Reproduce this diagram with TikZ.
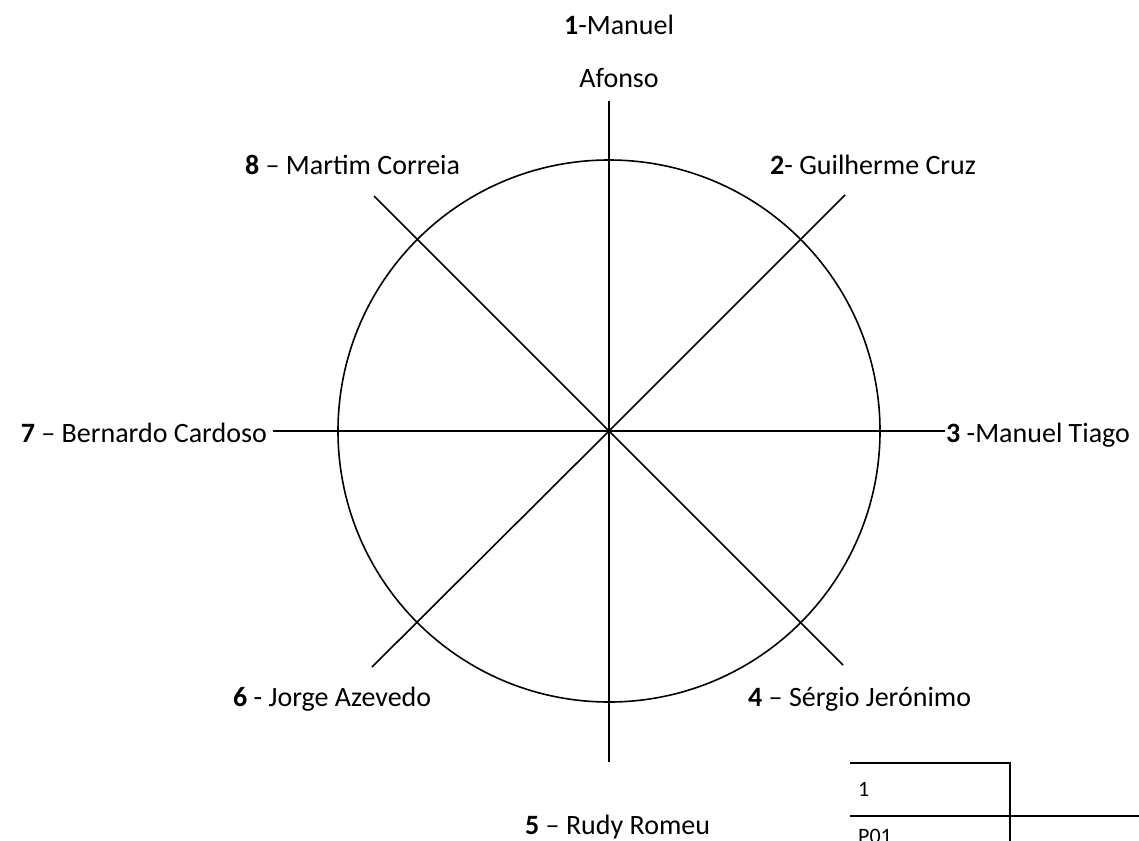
\documentclass[tikz,border=0pt]{standalone}
\usepackage{fontspec}
\setmainfont{Carlito}
\begin{document}
\begin{tikzpicture}[x=1pt,y=-1pt,
  spoke/.style={line width=1.6pt, black},
  rim/.style={line width=1.6pt, black},
  lbl/.style={font=\fontsize{28}{33}\selectfont, inner sep=0pt, anchor=base west},
  tbl/.style={line width=1.4pt, black},
  tbltext/.style={font=\fontsize{22}{26}\selectfont, inner sep=0pt, anchor=base west}]
\useasboundingbox (0,0) rectangle (1139,840);
\coordinate (c) at (609,431);
\coordinate (n) at (609,101);
\coordinate (s) at (609,762);
\coordinate (e) at (945,431);
\coordinate (w) at (273,431);
\coordinate (ne) at (845,195);
\coordinate (nw) at (374,196);
\coordinate (sw) at (372,667);
\coordinate (se) at (843,665);
\node[draw, rim, circle, minimum size=542pt, inner sep=0pt] (ring) at (c) {};
\foreach \p in {n,s,e,w,ne,nw,sw,se} \draw[spoke] (c) -- (\p);
\node[lbl, anchor=base] (t1a) at (619,35) {\textbf{1}-Manuel};
\node[lbl, anchor=base] (t1b) at (619,88) {Afonso};
\node[lbl] (t2) at (770,174) {\textbf{2}- Guilherme Cruz};
\node[lbl] (t3) at (946,442) {\textbf{3} -Manuel Tiago};
\node[lbl] (t4) at (748,706) {\textbf{4} – Sérgio Jerónimo};
\node[lbl] (t5) at (525,834) {\textbf{5} – Rudy Romeu};
\node[lbl] (t6) at (233,706) {\textbf{6} - Jorge Azevedo};
\node[lbl, anchor=base east] (t7) at (267,442) {\textbf{7} – Bernardo Cardoso};
\node[lbl] (t8) at (245,174) {\textbf{8} – Martim Correia};
% table
\coordinate (ta) at (850,763);
\coordinate (tb) at (1010,763);
\coordinate (tc) at (1010,845);
\coordinate (td) at (850,816);
\coordinate (te) at (1145,816);
\draw[tbl] (ta) -- (tb) -- (tc);
\draw[tbl] (td) -- (te);
\node[tbltext] (r1) at (858,796) {1};
\node[tbltext] (r2) at (858,843) {P01};
\end{tikzpicture}
\end{document}
